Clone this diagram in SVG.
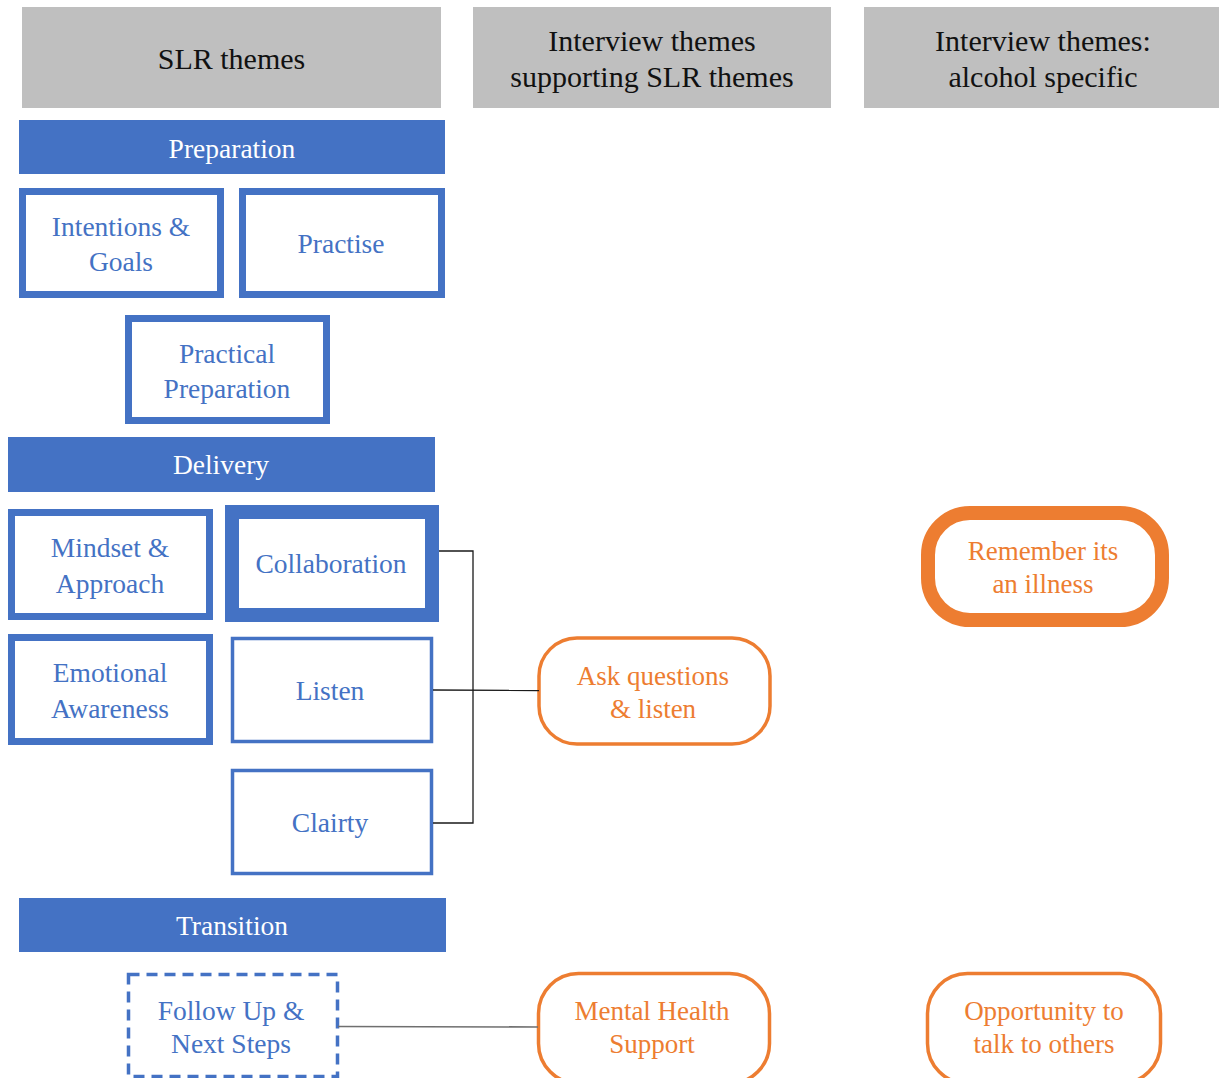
<svg xmlns="http://www.w3.org/2000/svg" width="1219" height="1078" viewBox="0 0 1219 1078" font-family="Liberation Serif, serif">
<style>
text{text-anchor:middle}
.hdr rect{fill:#bfbfbf}
.hdr text{font-size:30px;fill:#111}
.bar rect{fill:#4472c4}
.bar text{font-size:27.5px;fill:#fff}
.box rect{fill:#fff;stroke:#4472c4}
.box text{font-size:27.5px;fill:#4472c4}
.obox rect{fill:#fff;stroke:#ed7d31}
.obox text{font-size:27px;fill:#ed7d31}
.conn{fill:none;stroke:#1a1a1a;stroke-width:1.3}
</style>
<rect width="1219" height="1078" fill="#fff"/>
<g id="hdr-slr" class="hdr"><rect x="22" y="7" width="419" height="101"/><text x="231.5" y="69">SLR themes</text></g>
<g id="hdr-support" class="hdr"><rect x="473" y="7" width="358" height="101"/><text x="652" y="51">Interview themes</text><text x="652" y="87">supporting SLR themes</text></g>
<g id="hdr-alcohol" class="hdr"><rect x="864" y="7" width="355" height="101"/><text x="1043" y="51">Interview themes:</text><text x="1043" y="87">alcohol specific</text></g>

<g id="bar-preparation" class="bar"><rect x="19" y="120" width="426" height="54"/><text x="232" y="158">Preparation</text></g>
<g id="intentions" class="box"><rect x="22.5" y="191.5" width="198" height="103" stroke-width="7"/><text x="121" y="236">Intentions &amp;</text><text x="121" y="271">Goals</text></g>
<g id="practise" class="box"><rect x="242.5" y="191.5" width="199" height="103" stroke-width="7"/><text x="341" y="253">Practise</text></g>
<g id="practical" class="box"><rect x="128.5" y="318.5" width="198" height="102" stroke-width="7"/><text x="227" y="363">Practical</text><text x="227" y="398">Preparation</text></g>

<g id="bar-delivery" class="bar"><rect x="8" y="437" width="427" height="55"/><text x="221" y="474">Delivery</text></g>
<g id="mindset" class="box"><rect x="11.5" y="512.5" width="198" height="104" stroke-width="7"/><text x="110" y="557">Mindset &amp;</text><text x="110" y="593">Approach</text></g>
<g id="collaboration" class="box"><rect x="232" y="512" width="200" height="103" stroke-width="14"/><text x="331" y="573">Collaboration</text></g>
<g id="emotional" class="box"><rect x="11.5" y="637.5" width="198" height="104" stroke-width="7"/><text x="110" y="682">Emotional</text><text x="110" y="718">Awareness</text></g>
<g id="listen" class="box"><rect x="232.5" y="638.5" width="199" height="103" stroke-width="3.5"/><text x="330" y="700">Listen</text></g>
<g id="clairty" class="box"><rect x="232.5" y="770.5" width="199" height="103" stroke-width="3.5"/><text x="330" y="832">Clairty</text></g>

<g id="bar-transition" class="bar"><rect x="19" y="898" width="427" height="54"/><text x="232" y="935">Transition</text></g>
<g id="followup" class="box"><rect x="128.5" y="974.5" width="209" height="102" stroke-width="3.5" stroke-dasharray="11 7"/><text x="231" y="1020">Follow Up &amp;</text><text x="231" y="1053">Next Steps</text></g>

<g id="ask" class="obox"><rect x="539" y="638" width="231" height="106" rx="38" stroke-width="3.5"/><text x="653" y="685">Ask questions</text><text x="653" y="718">&amp; listen</text></g>
<g id="remember" class="obox"><rect x="928" y="513" width="234" height="107" rx="42" stroke-width="14"/><text x="1043" y="560">Remember its</text><text x="1043" y="593">an illness</text></g>
<g id="mental" class="obox"><rect x="538.5" y="973.5" width="231" height="110" rx="40" stroke-width="3.5"/><text x="652" y="1020">Mental Health</text><text x="652" y="1053">Support</text></g>
<g id="opportunity" class="obox"><rect x="927.5" y="973.5" width="233" height="110" rx="40" stroke-width="3.5"/><text x="1044" y="1020">Opportunity to</text><text x="1044" y="1053">talk to others</text></g>

<g id="connectors">
<polyline class="conn" points="439,551 473,551 473,823 433,823"/>
<line class="conn" x1="433" y1="690" x2="539" y2="690.5"/>
<line x1="338" y1="1026.5" x2="538" y2="1027" stroke="#6f6f6f" stroke-width="1.6"/>
</g>
</svg>
